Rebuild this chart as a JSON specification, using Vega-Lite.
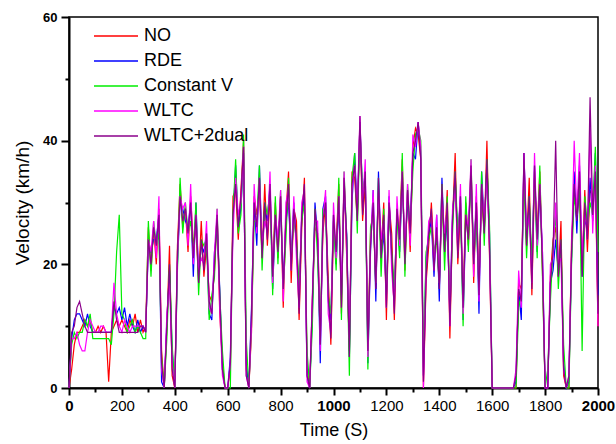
{
  "$schema": "https://vega.github.io/schema/vega-lite/v6.json",
  "autosize": "none",
  "width": 529,
  "height": 371,
  "padding": {"left": 69, "top": 17, "right": 18, "bottom": 56},
  "background": "white",
  "view": {"stroke": "black", "strokeWidth": 1.5},
  "data": {"values": [
    {"t":0,"NO":0,"RDE":0,"CV":0,"W":0,"W2":0},
    {"t":10,"NO":3,"RDE":8,"CV":7,"W":8,"W2":9},
    {"t":20,"NO":7,"RDE":11,"CV":9,"W":8,"W2":10},
    {"t":30,"NO":9,"RDE":12,"CV":8,"W":9,"W2":13},
    {"t":40,"NO":9,"RDE":12,"CV":9,"W":7,"W2":14},
    {"t":50,"NO":10,"RDE":11,"CV":9,"W":6,"W2":12},
    {"t":60,"NO":11,"RDE":10,"CV":11,"W":6,"W2":10},
    {"t":70,"NO":10,"RDE":12,"CV":10,"W":9,"W2":9},
    {"t":80,"NO":11,"RDE":10,"CV":12,"W":11,"W2":9},
    {"t":90,"NO":9,"RDE":9,"CV":8,"W":10,"W2":9},
    {"t":100,"NO":9,"RDE":9,"CV":8,"W":9,"W2":9},
    {"t":110,"NO":10,"RDE":9,"CV":8,"W":9,"W2":9},
    {"t":120,"NO":9,"RDE":9,"CV":8,"W":10,"W2":9},
    {"t":130,"NO":10,"RDE":9,"CV":8,"W":10,"W2":9},
    {"t":140,"NO":9,"RDE":9,"CV":8,"W":9,"W2":9},
    {"t":150,"NO":1,"RDE":9,"CV":8,"W":9,"W2":9},
    {"t":160,"NO":9,"RDE":9,"CV":7,"W":9,"W2":9},
    {"t":170,"NO":10,"RDE":13,"CV":12,"W":17,"W2":14},
    {"t":180,"NO":11,"RDE":12,"CV":22,"W":12,"W2":11},
    {"t":190,"NO":10,"RDE":13,"CV":28,"W":10,"W2":9},
    {"t":200,"NO":11,"RDE":11,"CV":12,"W":9,"W2":9},
    {"t":210,"NO":10,"RDE":13,"CV":11,"W":11,"W2":9},
    {"t":220,"NO":9,"RDE":10,"CV":9,"W":10,"W2":9},
    {"t":230,"NO":11,"RDE":12,"CV":10,"W":9,"W2":9},
    {"t":240,"NO":10,"RDE":10,"CV":11,"W":10,"W2":9},
    {"t":250,"NO":12,"RDE":9,"CV":9,"W":10,"W2":9},
    {"t":260,"NO":9,"RDE":11,"CV":10,"W":10,"W2":9},
    {"t":270,"NO":11,"RDE":9,"CV":9,"W":10,"W2":10},
    {"t":280,"NO":9,"RDE":10,"CV":8,"W":10,"W2":10},
    {"t":290,"NO":10,"RDE":9,"CV":8,"W":9,"W2":9},
    {"t":300,"NO":26,"RDE":23,"CV":27,"W":24,"W2":24},
    {"t":310,"NO":19,"RDE":22,"CV":18,"W":22,"W2":20},
    {"t":320,"NO":26,"RDE":24,"CV":27,"W":27,"W2":26},
    {"t":330,"NO":20,"RDE":24,"CV":23,"W":21,"W2":23},
    {"t":340,"NO":29,"RDE":28,"CV":25,"W":31,"W2":28},
    {"t":350,"NO":6,"RDE":1,"CV":5,"W":3,"W2":4},
    {"t":360,"NO":0,"RDE":0,"CV":0,"W":0,"W2":0},
    {"t":370,"NO":10,"RDE":11,"CV":8,"W":12,"W2":10},
    {"t":380,"NO":23,"RDE":19,"CV":20,"W":17,"W2":20},
    {"t":390,"NO":2,"RDE":6,"CV":7,"W":4,"W2":3},
    {"t":400,"NO":0,"RDE":0,"CV":0,"W":0,"W2":0},
    {"t":410,"NO":23,"RDE":20,"CV":19,"W":21,"W2":22},
    {"t":420,"NO":33,"RDE":30,"CV":34,"W":31,"W2":31},
    {"t":430,"NO":26,"RDE":29,"CV":25,"W":29,"W2":27},
    {"t":440,"NO":29,"RDE":27,"CV":30,"W":30,"W2":29},
    {"t":450,"NO":22,"RDE":26,"CV":25,"W":23,"W2":25},
    {"t":460,"NO":31,"RDE":30,"CV":27,"W":33,"W2":30},
    {"t":470,"NO":23,"RDE":18,"CV":22,"W":20,"W2":21},
    {"t":480,"NO":26,"RDE":30,"CV":30,"W":28,"W2":28},
    {"t":490,"NO":17,"RDE":18,"CV":15,"W":19,"W2":17},
    {"t":500,"NO":27,"RDE":23,"CV":24,"W":21,"W2":24},
    {"t":510,"NO":18,"RDE":22,"CV":23,"W":20,"W2":19},
    {"t":520,"NO":23,"RDE":25,"CV":24,"W":27,"W2":25},
    {"t":530,"NO":15,"RDE":12,"CV":11,"W":13,"W2":14},
    {"t":540,"NO":14,"RDE":11,"CV":15,"W":12,"W2":12},
    {"t":550,"NO":19,"RDE":22,"CV":18,"W":22,"W2":20},
    {"t":560,"NO":28,"RDE":26,"CV":29,"W":29,"W2":28},
    {"t":570,"NO":12,"RDE":16,"CV":15,"W":13,"W2":15},
    {"t":580,"NO":4,"RDE":3,"CV":6,"W":2,"W2":3},
    {"t":590,"NO":0,"RDE":0,"CV":0,"W":0,"W2":0},
    {"t":600,"NO":0,"RDE":0,"CV":0,"W":0,"W2":0},
    {"t":610,"NO":3,"RDE":5,"CV":0,"W":4,"W2":4},
    {"t":620,"NO":31,"RDE":27,"CV":28,"W":25,"W2":28},
    {"t":630,"NO":32,"RDE":36,"CV":37,"W":34,"W2":33},
    {"t":640,"NO":24,"RDE":26,"CV":25,"W":28,"W2":26},
    {"t":650,"NO":32,"RDE":29,"CV":28,"W":30,"W2":31},
    {"t":660,"NO":40,"RDE":38,"CV":41,"W":39,"W2":39},
    {"t":670,"NO":3,"RDE":4,"CV":8,"W":2,"W2":2},
    {"t":680,"NO":0,"RDE":0,"CV":0,"W":0,"W2":0},
    {"t":690,"NO":9,"RDE":13,"CV":10,"W":10,"W2":12},
    {"t":700,"NO":31,"RDE":30,"CV":27,"W":33,"W2":30},
    {"t":710,"NO":28,"RDE":23,"CV":27,"W":25,"W2":26},
    {"t":720,"NO":32,"RDE":36,"CV":36,"W":34,"W2":34},
    {"t":730,"NO":21,"RDE":22,"CV":19,"W":23,"W2":21},
    {"t":740,"NO":33,"RDE":29,"CV":30,"W":27,"W2":30},
    {"t":750,"NO":23,"RDE":27,"CV":28,"W":25,"W2":24},
    {"t":760,"NO":31,"RDE":33,"CV":32,"W":35,"W2":33},
    {"t":770,"NO":19,"RDE":16,"CV":15,"W":17,"W2":18},
    {"t":780,"NO":30,"RDE":27,"CV":31,"W":28,"W2":28},
    {"t":790,"NO":21,"RDE":24,"CV":20,"W":24,"W2":22},
    {"t":800,"NO":31,"RDE":29,"CV":32,"W":32,"W2":31},
    {"t":810,"NO":13,"RDE":17,"CV":16,"W":14,"W2":16},
    {"t":820,"NO":28,"RDE":27,"CV":24,"W":30,"W2":27},
    {"t":830,"NO":35,"RDE":30,"CV":34,"W":32,"W2":33},
    {"t":840,"NO":17,"RDE":21,"CV":21,"W":19,"W2":19},
    {"t":850,"NO":29,"RDE":30,"CV":27,"W":31,"W2":29},
    {"t":860,"NO":27,"RDE":23,"CV":24,"W":21,"W2":24},
    {"t":870,"NO":11,"RDE":15,"CV":16,"W":13,"W2":12},
    {"t":880,"NO":26,"RDE":28,"CV":27,"W":30,"W2":28},
    {"t":890,"NO":34,"RDE":31,"CV":30,"W":32,"W2":33},
    {"t":900,"NO":3,"RDE":2,"CV":6,"W":1,"W2":2},
    {"t":910,"NO":0,"RDE":0,"CV":0,"W":0,"W2":0},
    {"t":920,"NO":14,"RDE":12,"CV":10,"W":15,"W2":14},
    {"t":930,"NO":26,"RDE":30,"CV":29,"W":27,"W2":29},
    {"t":940,"NO":25,"RDE":24,"CV":21,"W":27,"W2":24},
    {"t":950,"NO":9,"RDE":4,"CV":8,"W":6,"W2":7},
    {"t":960,"NO":25,"RDE":29,"CV":29,"W":27,"W2":27},
    {"t":970,"NO":30,"RDE":31,"CV":28,"W":32,"W2":30},
    {"t":980,"NO":18,"RDE":14,"CV":15,"W":12,"W2":15},
    {"t":990,"NO":7,"RDE":11,"CV":12,"W":9,"W2":8},
    {"t":1000,"NO":26,"RDE":28,"CV":27,"W":30,"W2":28},
    {"t":1010,"NO":23,"RDE":20,"CV":19,"W":21,"W2":22},
    {"t":1020,"NO":33,"RDE":30,"CV":34,"W":31,"W2":31},
    {"t":1030,"NO":12,"RDE":15,"CV":11,"W":15,"W2":13},
    {"t":1040,"NO":34,"RDE":32,"CV":35,"W":35,"W2":34},
    {"t":1050,"NO":21,"RDE":25,"CV":24,"W":22,"W2":24},
    {"t":1060,"NO":6,"RDE":5,"CV":2,"W":8,"W2":5},
    {"t":1070,"NO":35,"RDE":30,"CV":34,"W":32,"W2":33},
    {"t":1080,"NO":34,"RDE":38,"CV":38,"W":36,"W2":36},
    {"t":1090,"NO":27,"RDE":28,"CV":25,"W":29,"W2":27},
    {"t":1100,"NO":43,"RDE":43,"CV":42,"W":44,"W2":44},
    {"t":1110,"NO":27,"RDE":31,"CV":32,"W":29,"W2":28},
    {"t":1120,"NO":33,"RDE":35,"CV":34,"W":37,"W2":35},
    {"t":1130,"NO":7,"RDE":4,"CV":3,"W":5,"W2":6},
    {"t":1140,"NO":25,"RDE":22,"CV":26,"W":23,"W2":23},
    {"t":1150,"NO":29,"RDE":32,"CV":28,"W":32,"W2":30},
    {"t":1160,"NO":16,"RDE":14,"CV":17,"W":17,"W2":16},
    {"t":1170,"NO":31,"RDE":35,"CV":34,"W":32,"W2":34},
    {"t":1180,"NO":22,"RDE":21,"CV":18,"W":24,"W2":21},
    {"t":1190,"NO":30,"RDE":25,"CV":29,"W":27,"W2":28},
    {"t":1200,"NO":11,"RDE":15,"CV":15,"W":13,"W2":13},
    {"t":1210,"NO":30,"RDE":31,"CV":28,"W":32,"W2":30},
    {"t":1220,"NO":25,"RDE":21,"CV":22,"W":19,"W2":22},
    {"t":1230,"NO":11,"RDE":15,"CV":16,"W":13,"W2":12},
    {"t":1240,"NO":27,"RDE":29,"CV":28,"W":31,"W2":29},
    {"t":1250,"NO":25,"RDE":22,"CV":21,"W":23,"W2":24},
    {"t":1260,"NO":37,"RDE":34,"CV":38,"W":35,"W2":35},
    {"t":1270,"NO":19,"RDE":22,"CV":18,"W":22,"W2":20},
    {"t":1280,"NO":32,"RDE":30,"CV":33,"W":33,"W2":32},
    {"t":1290,"NO":22,"RDE":26,"CV":25,"W":23,"W2":25},
    {"t":1300,"NO":39,"RDE":38,"CV":35,"W":41,"W2":38},
    {"t":1310,"NO":42,"RDE":37,"CV":41,"W":39,"W2":40},
    {"t":1320,"NO":41,"RDE":43,"CV":42,"W":43,"W2":43},
    {"t":1330,"NO":37,"RDE":38,"CV":40,"W":39,"W2":37},
    {"t":1340,"NO":0,"RDE":2,"CV":4,"W":0,"W2":1},
    {"t":1350,"NO":17,"RDE":21,"CV":22,"W":19,"W2":18},
    {"t":1360,"NO":23,"RDE":25,"CV":24,"W":27,"W2":25},
    {"t":1370,"NO":30,"RDE":27,"CV":26,"W":28,"W2":29},
    {"t":1380,"NO":21,"RDE":18,"CV":22,"W":19,"W2":19},
    {"t":1390,"NO":25,"RDE":28,"CV":24,"W":28,"W2":26},
    {"t":1400,"NO":16,"RDE":14,"CV":17,"W":17,"W2":16},
    {"t":1410,"NO":30,"RDE":34,"CV":33,"W":31,"W2":33},
    {"t":1420,"NO":23,"RDE":22,"CV":19,"W":25,"W2":22},
    {"t":1430,"NO":32,"RDE":27,"CV":31,"W":29,"W2":30},
    {"t":1440,"NO":8,"RDE":12,"CV":12,"W":10,"W2":10},
    {"t":1450,"NO":27,"RDE":28,"CV":25,"W":29,"W2":27},
    {"t":1460,"NO":38,"RDE":34,"CV":35,"W":32,"W2":35},
    {"t":1470,"NO":20,"RDE":24,"CV":25,"W":22,"W2":21},
    {"t":1480,"NO":29,"RDE":31,"CV":30,"W":33,"W2":31},
    {"t":1490,"NO":14,"RDE":11,"CV":10,"W":12,"W2":13},
    {"t":1500,"NO":30,"RDE":27,"CV":31,"W":28,"W2":28},
    {"t":1510,"NO":23,"RDE":26,"CV":22,"W":26,"W2":24},
    {"t":1520,"NO":36,"RDE":34,"CV":37,"W":37,"W2":36},
    {"t":1530,"NO":17,"RDE":21,"CV":20,"W":18,"W2":20},
    {"t":1540,"NO":31,"RDE":30,"CV":27,"W":33,"W2":30},
    {"t":1550,"NO":17,"RDE":12,"CV":16,"W":14,"W2":15},
    {"t":1560,"NO":31,"RDE":35,"CV":35,"W":33,"W2":33},
    {"t":1570,"NO":25,"RDE":26,"CV":23,"W":27,"W2":25},
    {"t":1580,"NO":40,"RDE":36,"CV":37,"W":34,"W2":37},
    {"t":1590,"NO":21,"RDE":25,"CV":26,"W":23,"W2":22},
    {"t":1600,"NO":0,"RDE":0,"CV":0,"W":0,"W2":0},
    {"t":1610,"NO":0,"RDE":0,"CV":0,"W":0,"W2":0},
    {"t":1620,"NO":0,"RDE":0,"CV":0,"W":0,"W2":0},
    {"t":1630,"NO":0,"RDE":0,"CV":0,"W":0,"W2":0},
    {"t":1640,"NO":0,"RDE":0,"CV":0,"W":0,"W2":0},
    {"t":1650,"NO":0,"RDE":0,"CV":0,"W":0,"W2":0},
    {"t":1660,"NO":0,"RDE":0,"CV":0,"W":0,"W2":0},
    {"t":1670,"NO":0,"RDE":0,"CV":0,"W":0,"W2":0},
    {"t":1680,"NO":0,"RDE":0,"CV":0,"W":0,"W2":0},
    {"t":1690,"NO":0,"RDE":1,"CV":0,"W":3,"W2":2},
    {"t":1700,"NO":17,"RDE":16,"CV":13,"W":19,"W2":16},
    {"t":1710,"NO":16,"RDE":11,"CV":15,"W":13,"W2":14},
    {"t":1720,"NO":36,"RDE":38,"CV":34,"W":38,"W2":38},
    {"t":1730,"NO":23,"RDE":24,"CV":21,"W":25,"W2":23},
    {"t":1740,"NO":34,"RDE":30,"CV":31,"W":28,"W2":31},
    {"t":1750,"NO":15,"RDE":19,"CV":20,"W":17,"W2":16},
    {"t":1760,"NO":34,"RDE":36,"CV":35,"W":38,"W2":36},
    {"t":1770,"NO":25,"RDE":22,"CV":21,"W":23,"W2":24},
    {"t":1780,"NO":35,"RDE":32,"CV":36,"W":33,"W2":33},
    {"t":1790,"NO":19,"RDE":22,"CV":18,"W":22,"W2":20},
    {"t":1800,"NO":0,"RDE":0,"CV":0,"W":0,"W2":0},
    {"t":1810,"NO":0,"RDE":0,"CV":3,"W":0,"W2":0},
    {"t":1820,"NO":18,"RDE":17,"CV":14,"W":20,"W2":17},
    {"t":1830,"NO":24,"RDE":19,"CV":23,"W":21,"W2":22},
    {"t":1840,"NO":26,"RDE":24,"CV":28,"W":30,"W2":40},
    {"t":1850,"NO":18,"RDE":19,"CV":16,"W":20,"W2":18},
    {"t":1860,"NO":27,"RDE":23,"CV":24,"W":21,"W2":24},
    {"t":1870,"NO":2,"RDE":4,"CV":7,"W":3,"W2":3},
    {"t":1880,"NO":0,"RDE":0,"CV":0,"W":0,"W2":0},
    {"t":1890,"NO":0,"RDE":1,"CV":0,"W":2,"W2":2},
    {"t":1900,"NO":24,"RDE":21,"CV":20,"W":22,"W2":22},
    {"t":1910,"NO":32,"RDE":35,"CV":31,"W":40,"W2":33},
    {"t":1920,"NO":27,"RDE":25,"CV":28,"W":28,"W2":27},
    {"t":1930,"NO":32,"RDE":36,"CV":35,"W":38,"W2":35},
    {"t":1940,"NO":19,"RDE":18,"CV":6,"W":21,"W2":18},
    {"t":1950,"NO":32,"RDE":27,"CV":31,"W":29,"W2":30},
    {"t":1960,"NO":22,"RDE":26,"CV":26,"W":24,"W2":24},
    {"t":1970,"NO":32,"RDE":34,"CV":30,"W":42,"W2":47},
    {"t":1980,"NO":31,"RDE":27,"CV":28,"W":25,"W2":28},
    {"t":1990,"NO":34,"RDE":38,"CV":39,"W":36,"W2":35},
    {"t":2000,"NO":10,"RDE":15,"CV":22,"W":10,"W2":12}
  ]},
  "transform": [{"fold": ["NO", "RDE", "CV", "W", "W2"], "as": ["series", "v"]}],
  "mark": {"type": "line", "strokeWidth": 1.2},
  "encoding": {
    "x": {"field": "t", "type": "quantitative", "scale": {"domain": [0, 2000], "nice": false},
      "axis": {"values": [0,100,200,300,400,500,600,700,800,900,1000,1100,1200,1300,1400,1500,1600,1700,1800,1900,2000], "format": "d", "labelExpr": "datum.value % 200 == 0 ? datum.label : ''", "title": "Time (S)", "titleFont": "Liberation Sans", "titleFontSize": 18, "titleFontWeight": "normal", "titleColor": "black", "titlePadding": 8, "labelFont": "Liberation Sans", "labelFontSize": 15, "labelColor": "black", "labelPadding": 3, "labelFlush": false, "tickSize": {"condition": {"test": "datum.value % 200 == 0", "value": 7}, "value": 4}, "tickWidth": 2, "tickColor": "black", "domainColor": "black", "domainWidth": 2, "gridOpacity": 0, "labelFontWeight": {"condition": {"test": "datum.value == 0 || datum.value == 1000 || datum.value == 2000", "value": "bold"}, "value": "normal"}}},
    "y": {"field": "v", "type": "quantitative", "scale": {"domain": [0, 60], "nice": false},
      "axis": {"values": [0,10,20,30,40,50,60], "labelExpr": "datum.value % 20 == 0 ? datum.label : ''", "title": "Velocity (km/h)", "titleFont": "Liberation Sans", "titleFontSize": 19, "titleFontWeight": "normal", "titleColor": "black", "titlePadding": 10, "labelFont": "Liberation Sans", "labelFontSize": 13, "labelFontWeight": "bold", "labelColor": "black", "labelPadding": 4, "tickSize": {"condition": {"test": "datum.value % 20 == 0", "value": 8}, "value": 4}, "tickWidth": 2, "tickColor": "black", "domainColor": "black", "domainWidth": 2, "gridOpacity": 0}},
    "color": {"field": "series", "type": "nominal",
      "scale": {"domain": ["NO", "RDE", "CV", "W", "W2"], "range": ["#ff0000", "#0000ff", "#00ee00", "#ff00ff", "#8b008b"]},
      "legend": {"orient": "none", "legendX": 36, "legendY": 8, "title": null, "labelExpr": "{'NO': 'NO', 'RDE': 'RDE', 'CV': 'Constant V', 'W': 'WLTC', 'W2': 'WLTC+2dual'}[datum.label]", "symbolType": "M-2.2,0H2.2", "symbolSize": 400, "symbolStrokeWidth": 1.5, "symbolFillColor": "transparent", "labelFontSize": 18, "labelFont": "Liberation Sans", "labelColor": "black", "labelOffset": 17, "rowPadding": 5, "padding": 0}},
    "order": {"field": "t", "type": "quantitative"}
  }
}
